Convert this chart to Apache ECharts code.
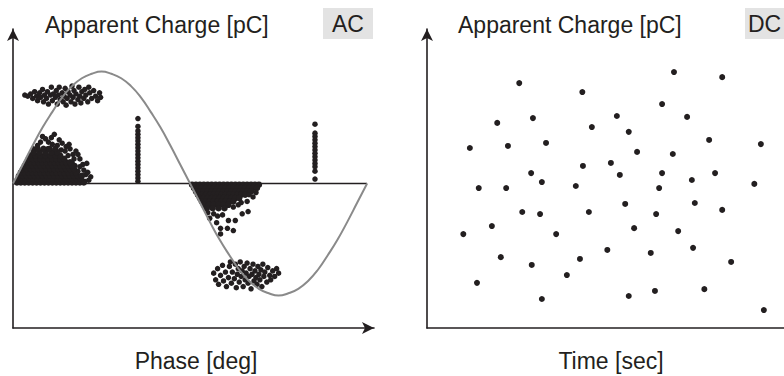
<!DOCTYPE html>
<html><head><meta charset="utf-8">
<script src="https://cdn.jsdelivr.net/npm/echarts@6/dist/echarts.min.js"></script>
<style>html,body{margin:0;padding:0;background:#fff}#c{width:784px;height:376px}</style>
</head><body><div id="c"></div>
<script>
// ---------- AC panel (phase in deg, apparent charge in pC) ----------
const sinePhase = [0,10,20,30,40,50,60,70,80,90,100,110,120,130,140,150,160,170,180,190,200,210,220,230,240,250,260,270,280,290,300,310,320,330,340,350,360];
const sineValues = [0,17,34,50,64,77,87,94,98,100,98,94,87,77,64,50,34,17,0,-17,-34,-50,-64,-77,-87,-94,-98,-100,-98,-94,-87,-77,-64,-50,-34,-17,0];
const zeroLine = [[0,0],[360,0]];

const acUpperCluster = [[12,79],[15,78],[18,80],[20,76],[22,82],[24,78],[25,74],[27,81],[28,77],[30,84],[31,73],[32,79],[34,76],[35,82],[36,71],[38,79],[39,86],[40,74],[41,80],[43,77],[44,83],[45,71],[46,79],[47,86],[48,75],[50,81],[51,73],[52,78],[53,85],[54,70],[55,76],[56,82],[58,79],[59,73],[60,87],[61,77],[62,83],[63,71],[64,80],[66,75],[67,86],[68,78],[69,72],[70,82],[72,76],[73,84],[74,79],[76,73],[77,86],[78,81],[80,76],[82,83],[84,78],[86,74],[88,81],[89,77]];

const acPosSparse = [[42,44],[36,37],[47,39],[54,33],[64,29],[68,22],[71,17],[77,3],[30,42],[25,34],[33,40],[39,41],[50,36],[58,31],[61,26],[66,26],[72,12],[74,8],[75,18],[79,6],[57,35],[45,34],[28,37],[21,31],[62,22],[68,15],[76,10],[53,29],[40,35],[35,31],[49,30],[44,28],[60,19],[66,11],[70,7],[73,2],[56,25],[63,16]];

const acPosCore = [[4,1],[8,1],[12,1],[16,1],[20,1],[24,1],[28,1],[32,1],[36,1],[40,1],[44,1],[48,1],[52,1],[56,1],[60,1],[64,1],[68,1],[72,1],
[5,4],[9,4],[13,4],[17,4],[21,4],[25,4],[29,4],[33,4],[37,4],[41,4],[45,4],[49,4],[53,4],[57,4],[61,4],[65,4],[69,4],
[6,7],[10,7],[14,7],[18,7],[22,7],[26,7],[30,7],[34,7],[38,7],[42,7],[46,7],[50,7],[54,7],[58,7],[62,7],[66,7],[70,7],
[8,10],[12,10],[16,10],[20,10],[24,10],[28,10],[32,10],[36,10],[40,10],[44,10],[48,10],[52,10],[56,10],[60,10],[64,10],
[10,13],[14,13],[18,13],[22,13],[26,13],[30,13],[34,13],[38,13],[42,13],[46,13],[50,13],[54,13],[58,13],[62,13],
[12,16],[16,16],[20,16],[24,16],[28,16],[32,16],[36,16],[40,16],[44,16],[48,16],[52,16],[56,16],[60,16],
[14,19],[18,19],[22,19],[26,19],[30,19],[34,19],[38,19],[42,19],[46,19],[50,19],[54,19],[58,19],
[16,22],[20,22],[24,22],[28,22],[32,22],[36,22],[40,22],[44,22],[48,22],[52,22],
[18,25],[23,25],[28,25],[33,25],[38,25],[43,25],[48,25],
[21,28],[27,28],[33,28],[39,28],[45,28],
[25,31],[31,31],[37,31],[43,31]];

const acLine1Phase = 127;
const acLine1Charge = [58,51,47,44,41,38,35,32,29,26,23,20,17,14,11,8,5,2];
const acLine2Phase = 307;
const acLine2Charge = [53,45,42,39,36,33,30,27,24,21,18,15,11,4];

const acNegCore = [[182,-1],[186,-1],[190,-1],[194,-1],[198,-1],[202,-1],[206,-1],[210,-1],[214,-1],[218,-1],[222,-1],[226,-1],[230,-1],[234,-1],[238,-1],[242,-1],[246,-1],[250,-1],
[184,-4],[188,-4],[192,-4],[196,-4],[200,-4],[204,-4],[208,-4],[212,-4],[216,-4],[220,-4],[224,-4],[228,-4],[232,-4],[236,-4],[240,-4],[244,-4],[248,-4],
[186,-7],[190,-7],[194,-7],[198,-7],[202,-7],[206,-7],[210,-7],[214,-7],[218,-7],[222,-7],[226,-7],[230,-7],[234,-7],[238,-7],[242,-7],
[188,-10],[192,-10],[196,-10],[200,-10],[204,-10],[208,-10],[212,-10],[216,-10],[220,-10],[224,-10],[228,-10],[232,-10],[236,-10],
[190,-13],[194,-13],[198,-13],[202,-13],[206,-13],[210,-13],[214,-13],[218,-13],[222,-13],[226,-13],[230,-13],
[192,-16],[196,-16],[200,-16],[204,-16],[208,-16],[212,-16],[216,-16],[220,-16],[224,-16],
[194,-19],[199,-19],[204,-19],[209,-19],[214,-19],[219,-19],
[197,-22],[203,-22],[209,-22],[215,-22]];

const acNegSparse = [[247,-8],[240,-10],[238,-16],[229,-19],[239,-25],[233,-27],[198,-26],[200,-31],[213,-28],[219,-33],[226,-33],[207,-35],[218,-40],[211,-40],[211,-45],[224,-42],[204,-27],[224,-21],[208,-29],[232,-17],[244,-12]];

const acLowerCluster = [[204,-80],[206,-86],[208,-76],[209,-90],[211,-82],[213,-73],[214,-87],[216,-79],[217,-92],[219,-84],[220,-74],[221,-70],[222,-89],[223,-79],[225,-85],[226,-72],[227,-93],[228,-81],[229,-76],[230,-88],[231,-70],[232,-83],[233,-78],[234,-92],[235,-74],[236,-86],[237,-80],[238,-71],[239,-89],[240,-83],[241,-76],[242,-94],[243,-81],[244,-72],[245,-87],[246,-78],[247,-84],[248,-90],[249,-74],[250,-81],[251,-86],[252,-77],[253,-92],[254,-72],[255,-83],[256,-79],[258,-88],[259,-75],[261,-82],[262,-86],[264,-78],[266,-83],[268,-76],[270,-80]];

// ---------- DC panel (time in s, apparent charge) ----------
const dcPoints = [[7.2,60.2],[8.7,46.8],[11.8,68.6],[13.3,46.8],[13.6,60.9],[15.5,81.9],[17.5,51.8],[17.8,70.2],[19.3,48.8],[20.0,61.9],[25.0,47.5],[26.1,78.9],[26.2,54.2],[27.7,67.2],[30.9,55.2],[31.9,70.9],[32.4,51.2],[33.9,65.6],[35.3,58.9],[39.0,46.8],[39.5,74.9],[39.5,51.8],[41.3,58.2],[41.5,85.6],[43.7,70.6],[44.5,49.5],[47.4,62.9],[48.4,51.8],[49.6,83.9],[55.0,48.2],[56.1,61.5],
[16.0,38.8],[19.0,38.1],[27.2,38.8],[33.3,41.5],[38.5,38.1],[45.0,41.8],[49.6,39.5],[6.1,31.4],[10.9,34.1],[21.7,31.4],[34.8,33.4],[42.2,32.4],[12.4,23.7],[17.6,21.1],[25.7,23.1],[30.3,26.1],[37.6,25.1],[44.7,26.8],[51.1,22.1],[23.5,17.7],[8.4,15.1],[19.3,9.7],[33.9,10.7],[38.3,12.4],[46.6,13.0],[56.6,6.0]];

const titles = ['Apparent Charge [pC]', 'Apparent Charge [pC]'];
const modeLabels = ['AC', 'DC'];
const xNames = ['Phase [deg]', 'Time [sec]'];

const INK = '#231f20';
const FONT = '"Liberation Sans", Arial, Helvetica, sans-serif';

const chart = echarts.init(document.getElementById('c'), null, {renderer: 'svg'});

function axisBase(extra) {
  return Object.assign({
    type: 'value',
    axisLabel: {show: false}, axisTick: {show: false}, splitLine: {show: false},
    axisLine: {show: true, onZero: false, symbol: ['none', 'arrow'], symbolSize: [9, 12], lineStyle: {color: INK, width: 1.6}}
  }, extra);
}

const sineData = sinePhase.map((p, i) => [p, sineValues[i]]);
const line1 = acLine1Charge.map(v => [acLine1Phase, v]);
const line2 = acLine2Charge.map(v => [acLine2Phase, v]);

function dots(data, size, g) {
  return {type: 'scatter', xAxisIndex: g, yAxisIndex: g, data: data, symbolSize: size,
    itemStyle: {color: INK, opacity: 1}, silent: true, z: 3};
}

function txt(x, y, text, align) {
  return {type: 'text', x: x, y: y, z: 10, style: {text: text, fontSize: 23, fontFamily: FONT, fill: INK, align: align || 'left', verticalAlign: 'middle'}};
}

chart.setOption({
  animation: false,
  backgroundColor: '#ffffff',
  grid: [
    {left: 13, top: 29, width: 361, height: 299, outerBoundsMode: 'none', containLabel: false},
    {left: 427, top: 29, width: 369, height: 299, outerBoundsMode: 'none', containLabel: false}
  ],
  xAxis: [
    axisBase({gridIndex: 0, min: 0, max: 367}),
    axisBase({gridIndex: 1, min: 0, max: 62})
  ],
  yAxis: [
    axisBase({gridIndex: 0, min: -129, max: 138}),
    axisBase({gridIndex: 1, min: 0, max: 100})
  ],
  series: [
    {type: 'line', xAxisIndex: 0, yAxisIndex: 0, data: zeroLine, symbol: 'none', silent: true,
      lineStyle: {color: INK, width: 1.6}, z: 2},
    dots(acUpperCluster, 5.5, 0),
    dots(acPosSparse, 5.5, 0),
    dots(acPosCore, 6.5, 0),
    dots(line1, 5.5, 0),
    dots(line2, 5.5, 0),
    dots(acNegCore, 6.5, 0),
    dots(acNegSparse, 5.5, 0),
    dots(acLowerCluster, 5.5, 0),
    {type: 'line', xAxisIndex: 0, yAxisIndex: 0, data: sineData, symbol: 'none', smooth: true, silent: true,
      lineStyle: {color: '#8a8a8a', width: 2}, z: 4},
    dots(dcPoints, 6, 1)
  ],
  graphic: [
    {type: 'rect', x: 323, y: 8, z: 5, shape: {width: 50, height: 31}, style: {fill: '#e3e3e3'}},
    {type: 'rect', x: 745, y: 8, z: 5, shape: {width: 50, height: 31}, style: {fill: '#e3e3e3'}},
    txt(45, 25, titles[0]),
    txt(458, 25, titles[1]),
    txt(348, 24, modeLabels[0], 'center'),
    txt(748, 24, modeLabels[1]),
    txt(196, 361, xNames[0], 'center'),
    txt(611, 361, xNames[1], 'center')
  ]
});
</script></body></html>
